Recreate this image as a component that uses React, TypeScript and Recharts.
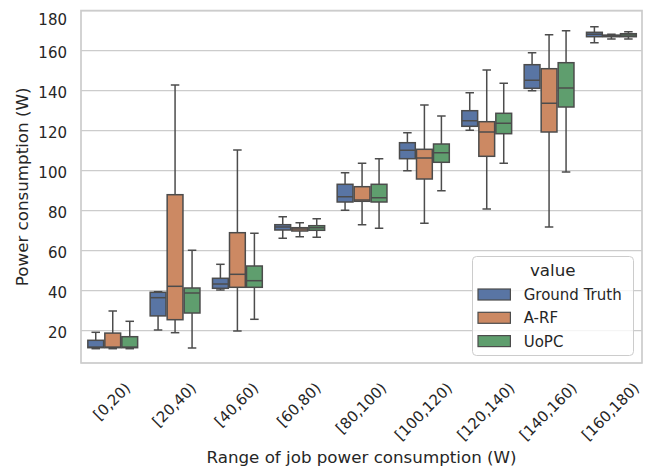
import React from 'react';
import { ComposedChart, Bar, XAxis, YAxis, CartesianGrid, Legend, ReferenceArea } from 'recharts';

// Range categories (x axis)
const categories = ["[0,20)", "[20,40)", "[40,60)", "[60,80)", "[80,100)", "[100,120)", "[120,140)", "[140,160)", "[160,180)"];

// Box statistics per category: [min whisker, Q1, median, Q3, max whisker]
const groundTruth = [
  [11, 11.5, 11.8, 15.2, 19.2],
  [20.35, 27.4, 36.5, 39.2, 39.5],
  [40.35, 41.2, 43.35, 46.2, 53.2],
  [66.2, 70.35, 71.85, 73, 77],
  [80.2, 84.35, 87, 93.2, 99],
  [100, 106, 110.2, 114, 119],
  [120.2, 122.2, 125, 130, 139],
  [140, 141.2, 145.2, 153, 159],
  [164, 167, 168.2, 169.2, 172],
];
const aRF = [
  [11, 11.5, 11.8, 18.8, 29.85],
  [19, 25.5, 42.2, 88, 142.85],
  [19.85, 41.7, 48.2, 69, 110.35],
  [67, 69.85, 70.85, 71.5, 74],
  [73, 84.7, 85.35, 92, 103.7],
  [73.7, 95.85, 106.35, 110.7, 132.8],
  [80.85, 107.2, 119.35, 124.5, 150.35],
  [71.85, 119.35, 133.7, 151, 168],
  [165.85, 167, 167.5, 167.8, 168.2],
];
const uoPC = [
  [11, 11.5, 11.8, 17, 24.7],
  [11.35, 28.85, 38.85, 41.35, 60.2],
  [25.7, 41.7, 45, 52.35, 68.7],
  [66.7, 70.2, 71.5, 72.5, 76],
  [71.2, 84.35, 86.5, 93.2, 106],
  [90, 104.2, 109, 113.35, 127.3],
  [103.7, 118.5, 123.7, 128.7, 143.7],
  [99.35, 131.85, 141.35, 154, 170],
  [165.85, 167, 167.85, 168.5, 169.5],
];

const seriesNames = ["Ground Truth", "A-RF", "UoPC"];
const seriesKeys = ["gt", "arf", "uopc"];
const seriesColors = ["#5975a4", "#cc8963", "#5f9e6e"];
const yTicks = [20, 40, 60, 80, 100, 120, 140, 160, 180];
const yDomain = [3.85, 180];

const allStats = [groundTruth, aRF, uoPC];

const data = categories.map((cat, i) => {
  const row: any = { cat };
  seriesKeys.forEach((k, s) => {
    const st = allStats[s][i];
    row[k] = [st[0], st[4]];
    row[k + "Stats"] = st;
  });
  return row;
});

const FONT = "'DejaVu Sans', sans-serif";
const TEXT = "#262626";
const EDGE = "#4c4c4c";
const GRID = "#cccccc";

const makeBoxShape = (key: string, color: string) => (props: any) => {
  const { x, y, width, height, payload } = props;
  const st = payload[key + "Stats"];
  if (!st) return null;
  const [mn, q1, md, q3, mx] = st;
  const top = Math.min(y, y + height);
  const bottom = Math.max(y, y + height);
  const py = (v: number) => (mx === mn ? top : bottom - ((bottom - top) * (v - mn)) / (mx - mn));
  const inset = 0.6;
  const bx = x + inset;
  const bw = width - 2 * inset;
  const cx = x + width / 2;
  const capHalf = width / 4;
  const lw = 1.5;
  return (
    <g>
      <line x1={cx} x2={cx} y1={py(mx)} y2={py(q3)} stroke={EDGE} strokeWidth={lw} />
      <line x1={cx} x2={cx} y1={py(q1)} y2={py(mn)} stroke={EDGE} strokeWidth={lw} />
      <line x1={cx - capHalf} x2={cx + capHalf} y1={py(mx)} y2={py(mx)} stroke={EDGE} strokeWidth={lw} />
      <line x1={cx - capHalf} x2={cx + capHalf} y1={py(mn)} y2={py(mn)} stroke={EDGE} strokeWidth={lw} />
      <rect x={bx} y={py(q3)} width={bw} height={Math.max(0, py(q1) - py(q3))} fill={color} stroke={EDGE} strokeWidth={lw} />
      <line x1={bx} x2={bx + bw} y1={py(md)} y2={py(md)} stroke={EDGE} strokeWidth={lw} />
    </g>
  );
};

const charW: Record<string, number> = { "[": 0.39, ")": 0.39, ",": 0.318 };
const textWidth = (s: string, size: number) =>
  s.split("").reduce((a, c) => a + (charW[c] !== undefined ? charW[c] : 0.636), 0) * size;

const XTick = (props: any) => {
  const { x, y, payload } = props;
  const fs = 15;
  const w = textWidth(String(payload.value), fs);
  const half = (w + 13.4) / (2 * Math.SQRT2);
  const cy = y + 18 + half;
  return (
    <text
      x={x}
      y={cy}
      dy={4.7}
      textAnchor="middle"
      fill={TEXT}
      fontSize={fs}
      fontFamily={FONT}
      transform={`rotate(-45 ${x} ${cy})`}
    >
      {payload.value}
    </text>
  );
};

const YTick = (props: any) => {
  const { x, y, payload } = props;
  return (
    <text x={x} y={y} dy={7.6} textAnchor="end" fill={TEXT} fontSize={15} fontFamily={FONT}>
      {payload.value}
    </text>
  );
};

const LegendBox = () => (
  <svg width={162} height={100} style={{ display: "block" }}>
    <rect x={0.5} y={0.5} width={161} height={99} rx={4} ry={4} fill="#ffffff" fillOpacity={0.8} stroke={GRID} strokeWidth={1} />
    <text x={80.7} y={19.7} textAnchor="middle" fill={TEXT} fontSize={16.7} fontFamily={FONT}>
      value
    </text>
    {seriesNames.map((n, i) => {
      const base = 44 + i * 23.3;
      return (
        <g key={n}>
          <rect x={6} y={base - 11} width={32.4} height={11} fill={seriesColors[i]} stroke={EDGE} strokeWidth={1.2} />
          <text x={51.7} y={base} fill={TEXT} fontSize={15} fontFamily={FONT}>
            {n}
          </text>
        </g>
      );
    })}
  </svg>
);

export default function App() {
  return (
    <div style={{ width: 643, height: 464, fontFamily: FONT }}>
      <ComposedChart
        width={643}
        height={464}
        data={data}
        margin={{ top: 2.7, right: 9, bottom: 0, left: 0 }}
        barCategoryGap="10%"
        barGap={0}
      >
        <CartesianGrid horizontal={true} vertical={false} stroke={GRID} strokeWidth={1.2} />
        <XAxis
          dataKey="cat"
          type="category"
          interval={0}
          height={109}
          tickLine={false}
          axisLine={false}
          tickSize={0}
          tickMargin={0}
          tick={<XTick />}
          label={{
            content: (p: any) => {
              const vb = p.viewBox || {};
              return (
                <text x={vb.x + vb.width / 2} y={vb.y + 100.3} textAnchor="middle" fill={TEXT} fontSize={16.7} fontFamily={FONT}>
                  Range of job power consumption (W)
                </text>
              );
            },
          }}
        />
        <YAxis
          type="number"
          domain={yDomain}
          ticks={yTicks}
          allowDataOverflow={true}
          width={73}
          tickLine={false}
          axisLine={false}
          tickSize={0}
          tickMargin={14}
          tick={<YTick />}
          label={{
            content: (p: any) => {
              const vb = p.viewBox || {};
              const cy = vb.y + vb.height / 2;
              return (
                <text x={20} y={cy} textAnchor="middle" fill={TEXT} fontSize={16.7} fontFamily={FONT} transform={`rotate(-90 20 ${cy})`}>
                  Power consumption (W)
                </text>
              );
            },
          }}
        />
        <ReferenceArea
          x1={categories[0]}
          x2={categories[categories.length - 1]}
          y1={yDomain[0]}
          y2={yDomain[1]}
          fill="none"
          stroke={GRID}
          strokeWidth={1.7}
          ifOverflow="visible"
        />
        {seriesKeys.map((k, i) => (
          <Bar
            key={k}
            dataKey={k}
            name={seriesNames[i]}
            fill={seriesColors[i]}
            isAnimationActive={false}
            shape={makeBoxShape(k, seriesColors[i])}
          />
        ))}
        <Legend
          layout="vertical"
          align="center"
          verticalAlign="middle"
          wrapperStyle={{ position: "absolute", left: 464.3, top: 248, width: 162, height: 100 }}
          content={() => <LegendBox />}
        />
      </ComposedChart>
    </div>
  );
}
